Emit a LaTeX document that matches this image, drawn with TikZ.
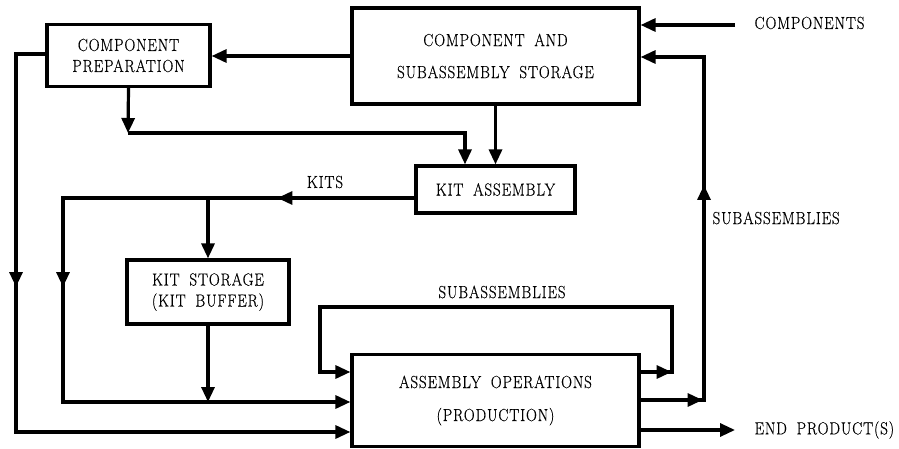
\documentclass[tikz,border=0pt]{standalone}
\usepackage{fontspec}
\setmainfont{Latin Modern Roman}[FakeStretch=0.86,FakeBold=0.4,LetterSpace=5,WordSpace=1.8]
\usetikzlibrary{arrows.meta,decorations.markings}
\begin{document}
\begin{tikzpicture}[x=1pt,y=-1pt,
  line width=3.2pt,
  tip/.tip={Triangle[length=15pt,width=13pt]},
  arr/.style={-tip},
  box/.style={draw,line width=3.2pt,align=center,inner sep=0pt,font=\fontsize{17.5}{21}\selectfont},
  lbl/.style={inner sep=0pt,font=\fontsize{17.5}{21}\selectfont},
  midarrow/.style={postaction={decorate,decoration={markings,mark=at position #1 with {\arrow{tip}}}}}]
\useasboundingbox (0,0) rectangle (899,449);

% boxes
\node[box,minimum width=163pt,minimum height=62pt] (prep) at (128.5,55.5) {COMPONENT\\PREPARATION};
\node[box,minimum width=287pt,minimum height=96pt] (stor) at (495.5,56) {COMPONENT AND\\[11pt]SUBASSEMBLY STORAGE};
\node[box,minimum width=159pt,minimum height=47pt] (kit) at (495.5,189.5) {KIT ASSEMBLY};
\node[box,minimum width=162pt,minimum height=64pt] (kstor) at (208,292) {KIT STORAGE\\(KIT BUFFER)};
\node[box,minimum width=287pt,minimum height=92pt] (ops) at (495.5,400.5) {ASSEMBLY OPERATIONS\\[12pt](PRODUCTION)};

% labels
\node[lbl,anchor=west] (tcomp) at (753,23) {COMPONENTS};
\node[lbl,anchor=west] (tsubr) at (711,218) {SUBASSEMBLIES};
\node[lbl] (tkits) at (325,182) {KITS};
\node[lbl] (tsubl) at (502,292) {SUBASSEMBLIES};
\node[lbl,anchor=west] (tend) at (753,430) {END PRODUCT(S)};

% coordinates
\coordinate (cin) at (735,25);
\coordinate (r1) at (704,400);
\coordinate (r2) at (704,57);
\coordinate (p1) at (128,133);
\coordinate (p2) at (465,133);
\coordinate (l1) at (16,54);
\coordinate (l2) at (16,432);
\coordinate (k1) at (63,198);
\coordinate (k2) at (63,402);
\coordinate (k3) at (208,198);
\coordinate (s1) at (672,372);
\coordinate (s2) at (672,307);
\coordinate (s3) at (320,307);
\coordinate (s4) at (320,372);
\coordinate (e1) at (735,430);

% connectors
\draw[arr] (cin) -- (cin -| stor.east);
\draw[arr] (stor.west) -- (stor.west -| prep.east);
\draw[arr] (ops.east |- r1) -- (r1) -- (r2) -- (r2 -| stor.east);
\draw[midarrow=62pt] (ops.east |- r1) -- (r1);
\draw[midarrow=215pt] (r1) -- (r2);
\draw[arr] (stor.south) -- (kit.north);
\draw[arr] (prep.south) -- (p1);
\draw[arr] (p1) -- (p2) -- (p2 |- kit.north);
\draw[arr] (prep.west |- l1) -- (l1) -- (l2) -- (l2 -| ops.west);
\draw[midarrow=233pt] (l1) -- (l2);
\draw[arr] (kit.west |- k1) -- (k1) -- (k2) -- (k2 -| ops.west);
\draw[midarrow=137pt] (kit.west |- k1) -- (k1);
\draw[midarrow=89pt] (k1) -- (k2);
\draw[arr] (k3) -- (kstor.north);
\draw[arr] (kstor.south) -- (kstor.south |- k2);
\draw[arr] (ops.east |- s1) -- (s1) -- (s2) -- (s3) -- (s4) -- (s4 -| ops.west);
\draw[midarrow=31pt] (ops.east |- s1) -- (s1);
\draw[arr] (ops.east |- e1) -- (e1);
\end{tikzpicture}
\end{document}
